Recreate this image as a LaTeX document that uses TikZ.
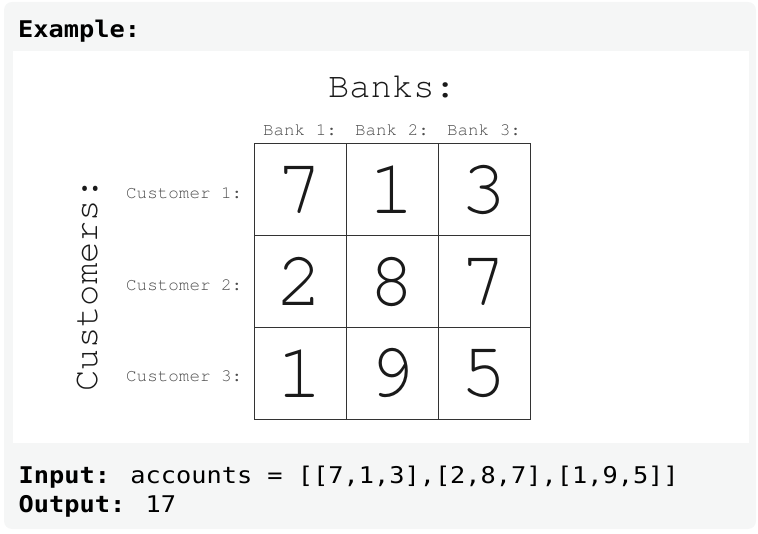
\documentclass[tikz,border=0pt]{standalone}
\usepackage{fontspec}
\usetikzlibrary{positioning}
\newfontfamily\gridfont{TeX Gyre Cursor}
\newfontfamily\codefont[FakeStretch=1.1]{DejaVu Sans Mono}
\definecolor{panelgrey}{HTML}{F5F6F6}
\definecolor{labelgrey}{HTML}{4D4D4D}
\definecolor{linegrey}{HTML}{333333}
\definecolor{inkblack}{HTML}{1A1A1A}

\tikzset{
    cell/.style={draw=linegrey, line width=1pt, minimum width=92pt, minimum height=91.8pt,
        inner sep=0pt, text=inkblack, font=\gridfont\fontsize{78}{80}\selectfont},
    banklbl/.style={inner sep=0pt, text=labelgrey, font=\gridfont\fontsize{17.6}{20}\selectfont},
    titlelbl/.style={inner sep=0pt, text=inkblack, font=\gridfont\fontsize{35.5}{38}\selectfont},
    codetext/.style={inner sep=0pt, text=black, font=\codefont\fontsize{23}{26}\selectfont}
}

\begin{document}
\begin{tikzpicture}[x=1pt, y=-1pt]
        \useasboundingbox (0,0) rectangle (758,534);
        % background
        \fill[panelgrey, rounded corners=8pt] (4,2) rectangle (756,529);
        \fill[white] (13,51) rectangle (749,443);

        % heading
        \node[codetext, anchor=base west] (example) at (18,37.3) {\bfseries Example:};

        % grid of accounts
        \foreach \v [count=\k from 0] in {7,1,3,2,8,7,1,9,5}
        {
            \pgfmathtruncatemacro\row{div(\k,3)}
            \pgfmathtruncatemacro\col{mod(\k,3)}
            \node[cell] (cell\row\col) at ({300+92*\col},{189.75+91.8*\row}) {\v};
        }

        % bank labels
        \foreach \col [count=\n] in {0,1,2}
            \path (cell0\col.north) ++(0,-7.5) node[banklbl, anchor=base] (bank\n) {Bank \n:};
        % customer labels
        \foreach \row [count=\n] in {0,1,2}
            \path (cell\row0.west) ++(-11,8.5) node[banklbl, anchor=base east] (cust\n) {Customer \n:};

        \path (cell01.north) ++(0,-45.5) node[titlelbl, anchor=base] (banks) {Banks:};
        \node[titlelbl, rotate=90, anchor=base] (customers) at (97,285) {Customers:};

        % input / output
        \node[codetext, anchor=base west] (input) at (18.5,483)
            {{\bfseries Input:} accounts = [[7,1,3],[2,8,7],[1,9,5]]};
        \node[codetext, anchor=base west] (output) at (18.5,512) {{\bfseries Output:} 17};
\end{tikzpicture}
\end{document}
